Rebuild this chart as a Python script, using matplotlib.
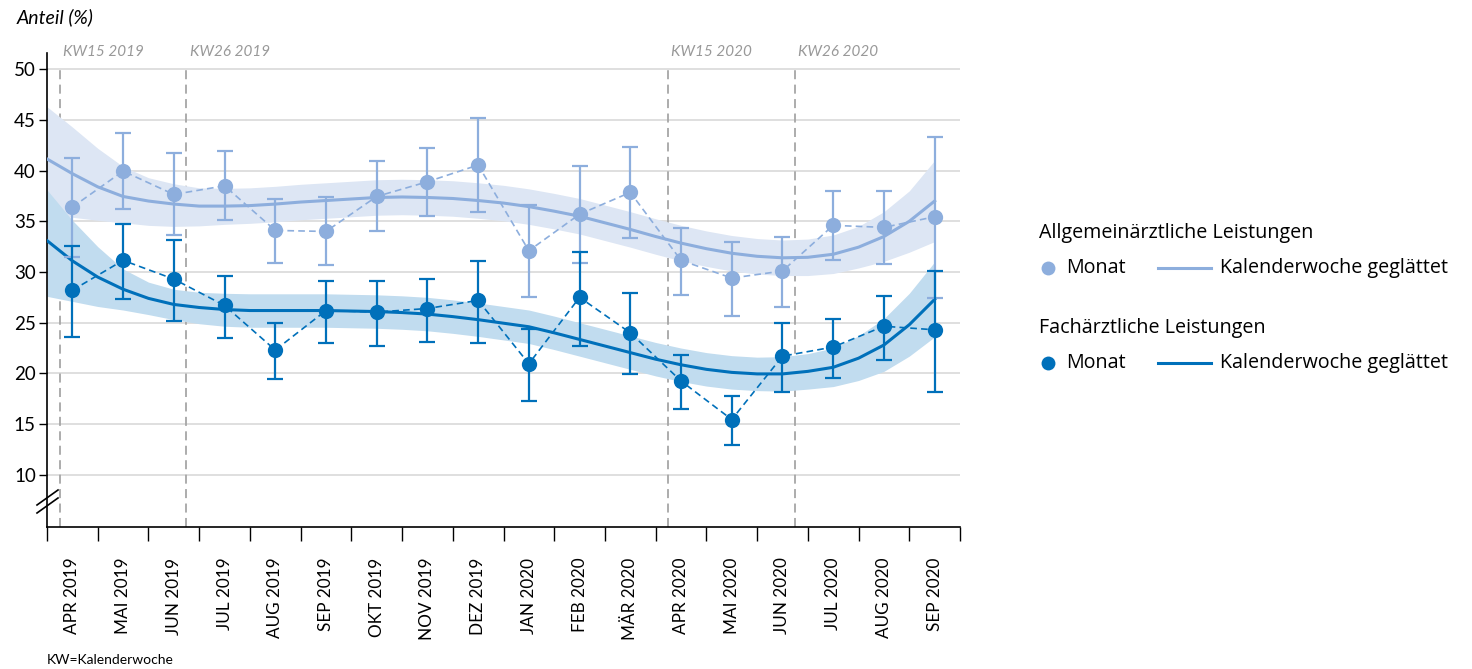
import matplotlib
matplotlib.use("Agg")
import matplotlib.pyplot as plt
import numpy as np

plt.rcParams['font.family'] = ['Lato', 'DejaVu Sans']

months = ["APR 2019", "MAI 2019", "JUN 2019", "JUL 2019", "AUG 2019", "SEP 2019",
          "OKT 2019", "NOV 2019", "DEZ 2019", "JAN 2020", "FEB 2020", "MÄR 2020",
          "APR 2020", "MAI 2020", "JUN 2020", "JUL 2020", "AUG 2020", "SEP 2020"]

# Allgemeinärztliche Leistungen (monthly)
allg_val = [36.4, 39.95, 37.65, 38.5, 34.1, 34.0, 37.45, 38.9, 40.55, 32.1, 35.7, 37.85,
            31.15, 29.4, 30.1, 34.6, 34.4, 35.45]
allg_hi = [41.2, 43.7, 41.75, 41.95, 37.2, 37.4, 40.95, 42.25, 45.15, 36.6, 40.45, 42.3,
           34.35, 32.95, 33.5, 38.0, 38.0, 43.3]
allg_lo = [31.5, 36.2, 33.65, 35.1, 30.9, 30.7, 34.0, 35.5, 35.95, 27.55, 30.9, 33.4,
           27.75, 25.7, 26.5, 31.2, 30.8, 27.45]

# Fachärztliche Leistungen (monthly)
fach_val = [28.2, 31.15, 29.3, 26.7, 22.3, 26.2, 26.05, 26.4, 27.2, 20.95, 27.5, 24.0,
            19.25, 15.45, 21.7, 22.6, 24.65, 24.3]
fach_hi = [32.6, 34.7, 33.2, 29.65, 25.0, 29.1, 29.1, 29.3, 31.1, 24.4, 31.95, 27.95,
           21.8, 17.8, 24.97, 25.4, 27.6, 30.1]
fach_lo = [23.6, 27.3, 25.2, 23.5, 19.4, 22.95, 22.7, 23.1, 22.95, 17.3, 22.75, 19.9,
           16.45, 12.9, 18.2, 19.5, 21.35, 18.2]

# Smoothed weekly curves (position in month units) with confidence band
smooth_pos = [-0.5, 0, 0.5, 1, 1.5, 2, 2.5, 3, 3.5, 4, 4.5, 5, 5.5, 6, 6.5, 7, 7.5, 8, 8.5,
              9, 9.5, 10, 10.5, 11, 11.5, 12, 12.5, 13, 13.5, 14, 14.5, 15, 15.5, 16, 16.5, 17]
allg_smooth = [41.15, 39.7, 38.4, 37.45, 37.0, 36.7, 36.5, 36.5, 36.55, 36.7, 36.9, 37.05,
               37.2, 37.35, 37.4, 37.35, 37.25, 37.05, 36.8, 36.45, 36.0, 35.5, 34.85, 34.2,
               33.5, 32.85, 32.3, 31.85, 31.55, 31.4, 31.45, 31.75, 32.45, 33.5, 35.0, 37.0]
allg_band_hi = [46.3, 44.3, 42.2, 40.4, 39.3, 38.7, 38.3, 38.25, 38.3, 38.45, 38.65, 38.8,
                38.95, 39.1, 39.15, 39.1, 39.0, 38.8, 38.55, 38.2, 37.75, 37.25, 36.6, 35.95,
                35.25, 34.6, 34.05, 33.6, 33.3, 33.15, 33.25, 33.65, 34.5, 35.95, 38.0, 41.0]
allg_band_lo = [35.6, 35.4, 35.1, 34.85, 34.6, 34.5, 34.55, 34.7, 34.8, 34.95, 35.15, 35.3,
                35.45, 35.6, 35.65, 35.6, 35.5, 35.3, 35.05, 34.7, 34.25, 33.75, 33.1, 32.45,
                31.75, 31.1, 30.55, 30.1, 29.8, 29.65, 29.65, 29.85, 30.4, 31.05, 31.95, 33.0]
fach_smooth = [33.1, 31.1, 29.5, 28.3, 27.4, 26.8, 26.5, 26.3, 26.2, 26.2, 26.2, 26.2,
               26.15, 26.1, 26.0, 25.85, 25.6, 25.3, 24.95, 24.6, 24.0, 23.35, 22.7, 22.05,
               21.4, 20.85, 20.4, 20.1, 19.95, 19.95, 20.2, 20.6, 21.5, 22.8, 24.8, 27.3]
fach_band_hi = [38.1, 35.1, 32.5, 30.3, 29.0, 28.3, 28.0, 27.9, 27.85, 27.85, 27.85, 27.85,
                27.8, 27.75, 27.65, 27.5, 27.25, 26.95, 26.6, 26.25, 25.65, 25.0, 24.35, 23.7,
                23.05, 22.5, 22.05, 21.75, 21.6, 21.65, 21.95, 22.5, 23.7, 25.4, 27.9, 31.0]
fach_band_lo = [27.6, 27.1, 26.6, 26.25, 25.8, 25.3, 24.9, 24.65, 24.55, 24.55, 24.55, 24.55,
                24.5, 24.45, 24.35, 24.2, 23.95, 23.65, 23.3, 22.95, 22.35, 21.7, 21.05, 20.4,
                19.75, 19.2, 18.75, 18.45, 18.3, 18.25, 18.45, 18.7, 19.3, 20.2, 21.7, 23.6]

kw_pos = [-0.25, 2.25, 11.75, 14.25]
kw_labels = ["KW15 2019", "KW26 2019", "KW15 2020", "KW26 2020"]
yticks = [10, 15, 20, 25, 30, 35, 40, 45, 50]

LIGHT = "#8DAEDD"
LIGHT_BAND = "#DDE6F4"
DARK = "#0070BA"
DARK_BAND = "#C1DCEF"
GRID = "#D9D9D9"
KWGRAY = "#999999"

W, H = 1472, 669
fig = plt.figure(figsize=(W / 100, H / 100), dpi=100)
ax = fig.add_axes([47 / W, 1 - 527 / H, (960 - 47) / W, (527 - 53) / H])
ax.set_xlim(-0.5, 17.5)
ax.set_ylim(4.85, 51.6)

x = np.arange(len(months))

# grid
for yv in yticks:
    ax.axhline(yv, color=GRID, lw=1.2, zorder=0)

# KW lines
for p, lab in zip(kw_pos, kw_labels):
    ax.plot([p, p], [4.85, 50], color="#A6A6A6", lw=1.3, ls=(0, (5, 3)), zorder=1)
    ax.text(p + 0.06, 51.65, lab, color=KWGRAY, fontsize=11, style="italic",
            ha="left", va="center")

# bands and smooth curves
ax.fill_between(smooth_pos, allg_band_lo, allg_band_hi, color=LIGHT_BAND, lw=0, zorder=2)
ax.fill_between(smooth_pos, fach_band_lo, fach_band_hi, color=DARK_BAND, lw=0, zorder=2)
ax.plot(smooth_pos, allg_smooth, color=LIGHT, lw=2.2, zorder=3, solid_joinstyle="round")
ax.plot(smooth_pos, fach_smooth, color=DARK, lw=2.2, zorder=3, solid_joinstyle="round")

# monthly points
for val, hi, lo, col in [(allg_val, allg_hi, allg_lo, LIGHT), (fach_val, fach_hi, fach_lo, DARK)]:
    val = np.array(val)
    yerr = [val - np.array(lo), np.array(hi) - val]
    ax.errorbar(x, val, yerr=yerr, fmt="none", ecolor=col, elinewidth=1.6,
                capsize=6, capthick=1.6, zorder=4)
    ax.plot(x, val, color=col, lw=1.2, ls=(0, (4, 2.5)), zorder=4)
    ax.plot(x, val, "o", color=col, ms=11, mec="none", zorder=5)

# axes styling
for s in ["top", "right"]:
    ax.spines[s].set_visible(False)
ax.spines["left"].set_linewidth(1.2)
ax.spines["bottom"].set_linewidth(1.2)
ax.set_yticks(yticks)
ax.set_yticklabels([str(v) for v in yticks], fontsize=13.5)
ax.tick_params(axis="y", length=6, width=1, pad=2)
ax.set_xticks(np.arange(-0.5, 18, 1.0))
ax.set_xticklabels([])
ax.tick_params(axis="x", length=10, width=1)
ax.set_xticks(x, minor=True)
ax.set_xticklabels(months, minor=True, rotation=90, fontsize=12.3)
ax.tick_params(axis="x", which="minor", length=0, pad=22)

# axis break marks
ov = fig.add_axes([0, 0, 1, 1])
ov.set_xlim(0, W)
ov.set_ylim(H, 0)
ov.axis("off")
for dy in (0, 8):
    ov.plot([37, 58], [505 + dy, 490 + dy], color="black", lw=1.2)
ov.text(17, 17, "Anteil (%)", fontsize=14, style="italic", ha="left", va="center")
ov.text(47, 660, "KW=Kalenderwoche", fontsize=10, ha="left", va="center")

# legend
LF = ['Open Sans', 'DejaVu Sans']
LS = 14.2
ov.text(1039, 233, "Allgemeinärztliche Leistungen", fontsize=LS, family=LF, ha="left", va="center")
ov.plot([1048], [268], "o", color=LIGHT, ms=10, mec="none")
ov.text(1066, 268, "Monat", fontsize=LS, family=LF, ha="left", va="center")
ov.plot([1158, 1211], [268, 268], color=LIGHT, lw=2.2)
ov.text(1220, 268, "Kalenderwoche geglättet", fontsize=LS, family=LF, ha="left", va="center")
ov.text(1039, 328, "Fachärztliche Leistungen", fontsize=LS, family=LF, ha="left", va="center")
ov.plot([1048], [363], "o", color=DARK, ms=10, mec="none")
ov.text(1066, 363, "Monat", fontsize=LS, family=LF, ha="left", va="center")
ov.plot([1158, 1211], [363, 363], color=DARK, lw=2.2)
ov.text(1220, 363, "Kalenderwoche geglättet", fontsize=LS, family=LF, ha="left", va="center")

fig.savefig("out.png", dpi=100)
